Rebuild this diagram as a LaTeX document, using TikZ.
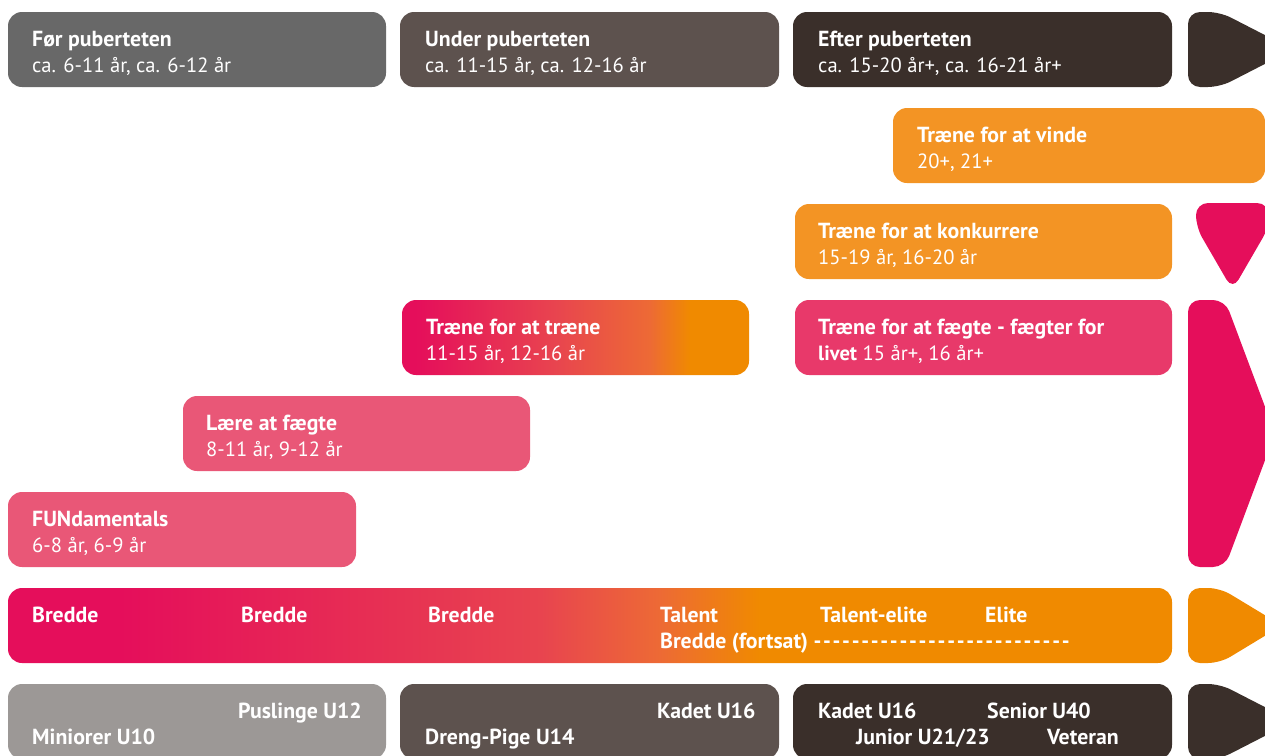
\documentclass[tikz,border=0pt]{standalone}
\usepackage{fontspec}
\setmainfont{PT Sans}
\definecolor{grayA}{HTML}{686868}
\definecolor{grayB}{HTML}{9C9896}
\definecolor{brownA}{HTML}{5D524E}
\definecolor{darkA}{HTML}{3A2F2A}
\definecolor{orangeA}{HTML}{F08A00}
\definecolor{orangeB}{HTML}{F39424}
\definecolor{pinkA}{HTML}{E50E5B}
\definecolor{pinkB}{HTML}{E8396A}
\definecolor{pinkC}{HTML}{E95777}
\definecolor{midA}{HTML}{E8444F}
\definecolor{midB}{HTML}{ED6A35}
\pgfdeclarehorizontalshading{bredshade}{100bp}{color(0bp)=(pinkA); color(29.8bp)=(pinkA); color(47.9bp)=(midA); color(53bp)=(midB); color(57.3bp)=(orangeA); color(100bp)=(orangeA)}
\pgfdeclarehorizontalshading{trainshade}{100bp}{color(0bp)=(pinkA); color(26.9bp)=(pinkA); color(47bp)=(midA); color(60.7bp)=(midB); color(66.5bp)=(orangeA); color(100bp)=(orangeA)}
\newcommand{\dashrow}[1]{\foreach \i in {1,...,#1}{-\kern1.7pt}}
\begin{document}
\begin{tikzpicture}[x=1pt,y=-1pt,
  box/.style={rounded corners=14pt, inner sep=0pt, outer sep=0pt, anchor=north west, minimum height=75pt, draw=none},
  arr/.style={rounded corners=12pt, draw=none},
  ttl/.style={anchor=base west, inner sep=0pt, text=white, font=\fontsize{21.8}{26}\selectfont\bfseries},
  age/.style={anchor=base west, inner sep=0pt, text=white, font=\fontsize{20.6}{26}\selectfont}]
\useasboundingbox (0,0) rectangle (1265,755);
\clip (0,0) rectangle (1265,755);
% row 1
\node[box, fill=grayA, minimum width=378pt] (b1) at (8,12) {};
\node[box, fill=brownA, minimum width=379pt] (b2) at (400,12) {};
\node[box, fill=darkA, minimum width=379pt] (b3) at (793,12) {};
\fill[arr, darkA] (1188,12) -- (1220,12) -- (1293,49.5) -- (1220,87) -- (1188,87) -- cycle;
\node[ttl] (t1) at (32,46) {Før puberteten};
\node[age] (a1) at (32,72) {ca. 6-11 år, ca. 6-12 år};
\node[ttl] (t2) at (425,46) {Under puberteten};
\node[age] (a2) at (425,72) {ca. 11-15 år, ca. 12-16 år};
\node[ttl] (t3) at (818,46) {Efter puberteten};
\node[age] (a3) at (818,72) {ca. 15-20 år+, ca. 16-21 år+};
% row 2
\node[box, fill=orangeB, minimum width=372pt] (b4) at (893,108) {};
\node[ttl] (t4) at (917,142) {Træne for at vinde};
\node[age] (a4) at (917,168) {20+, 21+};
% row 3
\node[box, fill=orangeB, minimum width=377pt] (b5) at (795,204) {};
\node[ttl] (t5) at (818,238) {Træne for at konkurrere};
\node[age] (a5) at (818,264) {15-19 år, 16-20 år};
\fill[arr, pinkA] (1196,203) -- (1269,203) -- (1269,227) -- (1232.5,290) -- (1196,227) -- cycle;
% row 4
\node[box, shading=trainshade, minimum width=347pt] (b6) at (402,300) {};
\node[ttl] (t6) at (426,334) {Træne for at træne};
\node[age] (a6) at (426,360) {11-15 år, 12-16 år};
\node[box, fill=pinkB, minimum width=377pt] (b7) at (795,300) {};
\node[ttl] (t7) at (818,334) {Træne for at fægte - fægter for};
\node[age] (a7) at (818,360) {\textbf{livet} 15 år+, 16 år+};
\fill[arr, pinkA] (1188,300) -- (1225,300) -- (1275,433.5) -- (1225,567) -- (1188,567) -- cycle;
% row 5
\node[box, fill=pinkC, minimum width=347pt] (b8) at (183,396) {};
\node[ttl] (t8) at (206,430) {Lære at fægte};
\node[age] (a8) at (206,456) {8-11 år, 9-12 år};
% row 6
\node[box, fill=pinkC, minimum width=348pt] (b9) at (8,492) {};
\node[ttl] (t9) at (32,526) {FUNdamentals};
\node[age] (a9) at (32,552) {6-8 år, 6-9 år};
% row 7
\node[box, shading=bredshade, minimum width=1164pt] (b10) at (8,588) {};
\fill[arr, orangeA] (1188,588) -- (1220,588) -- (1282,625.5) -- (1220,663) -- (1188,663) -- cycle;
\node[ttl] (r1) at (32,622) {Bredde};
\node[ttl] (r2) at (241,622) {Bredde};
\node[ttl] (r3) at (428,622) {Bredde};
\node[ttl] (r4) at (660,622) {Talent};
\node[ttl] (r5) at (820,622) {Talent-elite};
\node[ttl] (r6) at (985,622) {Elite};
\node[ttl] (r7) at (660,648) {Bredde (fortsat) \dashrow{27}};
% row 8
\node[box, fill=grayB, minimum width=378pt] (b11) at (8,684) {};
\node[box, fill=brownA, minimum width=379pt] (b12) at (400,684) {};
\node[box, fill=darkA, minimum width=379pt] (b13) at (793,684) {};
\fill[arr, darkA] (1188,684) -- (1220,684) -- (1293,721.5) -- (1220,759) -- (1188,759) -- cycle;
\node[ttl] (s1) at (238,718) {Puslinge U12};
\node[ttl] (s2) at (32,744) {Miniorer U10};
\node[ttl] (s3) at (657,718) {Kadet U16};
\node[ttl] (s4) at (425,744) {Dreng-Pige U14};
\node[ttl] (s5) at (818,718) {Kadet U16};
\node[ttl] (s6) at (987,718) {Senior U40};
\node[ttl] (s7) at (856,744) {Junior U21/23};
\node[ttl] (s8) at (1047,744) {Veteran};
\end{tikzpicture}
\end{document}
